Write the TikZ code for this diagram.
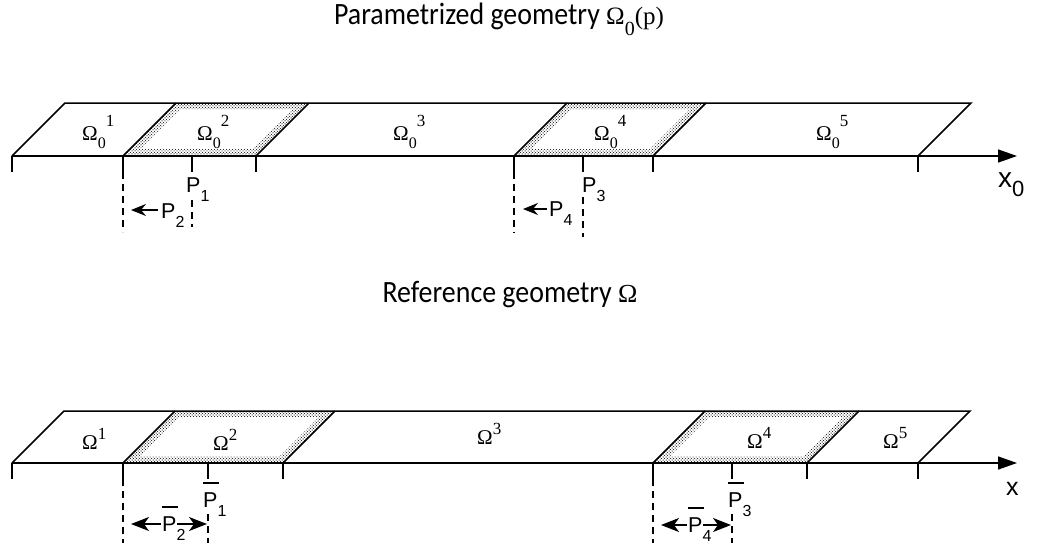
\documentclass[tikz,border=0pt]{standalone}
\usepackage{fontspec}
\setmainfont{Liberation Sans}
\newfontfamily\omfont{Liberation Serif}
\newfontfamily\capfont[FakeStretch=0.9]{Carlito}
\usetikzlibrary{arrows.meta, patterns}
\newcommand{\lowr}[1]{\raisebox{-0.42em}{\fontsize{16}{16}\selectfont#1}}
\newcommand{\Psub}[1]{P\lowr{#1}}
\newcommand{\Pbar}[1]{\makebox[0pt][l]{\raisebox{1.08em}{\rule{0.75em}{1.4pt}}}\Psub{#1}}
\newcommand{\Omz}[1]{Ω\raisebox{-0.4em}{\fontsize{16}{16}\selectfont 0}\raisebox{0.65em}{\fontsize{17}{17}\selectfont#1}}
\newcommand{\Omr}[1]{Ω\raisebox{0.45em}{\fontsize{17}{17}\selectfont#1}}
\tikzset{
  ln/.style={line width=1.5pt},
  dsh/.style={line width=1.4pt, dash pattern=on 7pt off 5pt},
  ar1/.style={line width=1.5pt, -{Stealth[length=15pt,width=12pt,inset=5pt]}},
  ar2/.style={line width=1.5pt, -{Stealth[length=18pt,width=14pt,inset=5pt]}},
  stip/.style={pattern=crosshatch dots, pattern color=black, even odd rule},
  stipb/.style={pattern=dots, pattern color=black!70, even odd rule},
  lab/.style={inner sep=0pt, anchor=base west},
  plab/.style={lab, font=\fontsize{21.5}{24}\selectfont},
  olab/.style={lab, font=\fontsize{21}{24}\omfont},
  title/.style={inner sep=0pt, anchor=base, font=\fontsize{31}{34}\capfont}
}
\begin{document}
\begin{tikzpicture}[x=1pt, y=-1pt]
  \useasboundingbox (0,0) rectangle (1039,544);
  % titles
  \node[title] (t0) at (499,24) {Parametrized geometry {\omfont\fontsize{25}{26}\selectfont Ω\raisebox{-0.45em}{\fontsize{20}{20}\selectfont 0}(p)}};
  \node[title] (t1) at (510,302) {Reference geometry {\omfont\fontsize{26}{28}\selectfont Ω}};

  % stippled cells
  \foreach \a/\b/\y/\h in {123/256/156/53, 514/653/156/53, 123/283/463/52, 653/807/463/52} {
    \fill[stip] (\a,\y) -- (\a+\h,\y-\h) -- (\b+\h,\y-\h) -- (\b,\y) -- cycle
      (\a+17,\y-7) -- (\a+\h+4,\y-\h+6) -- (\b+\h-16,\y-\h+6) -- (\b-3,\y-7) -- cycle;
    \fill[stipb] (\a,\y) -- (\a+\h,\y-\h) -- (\b+\h,\y-\h) -- (\b,\y) -- cycle
      (\a+13,\y-5) -- (\a+\h+2,\y-\h+4) -- (\b+\h-12,\y-\h+4) -- (\b-1,\y-5) -- cycle;
  }

  % parametrized strip
  \draw[ln] (12,156) -- (65,103) -- (971,103) -- (918,156);
  \draw[ln, -{Triangle[length=19pt,width=13pt]}] (12,156) -- (1017,156);
  \foreach \a in {123,256,514,653}
    \draw[ln] (\a,156) -- ++(53,-53);
  \foreach \a in {12,123,192,256,514,583,653,918}
    \draw[ln] (\a,156) -- ++(0,16);
  \draw[dsh] (123,172) -- (123,232);
  \draw[dsh] (514,172) -- (514,233);
  \draw[dsh] (192,200) -- (192,227);
  \draw[dsh] (583,197) -- (583,237);

  \node[olab] (o01) at (82,140) {\Omz{1}};
  \node[olab] (o02) at (197,140) {\Omz{2}};
  \node[olab] (o03) at (393,140) {\Omz{3}};
  \node[olab] (o04) at (594,140) {\Omz{4}};
  \node[olab] (o05) at (816,140) {\Omz{5}};

  \node[plab] (p1) at (186,192) {\Psub{1}};
  \node[plab] (p2) at (161,218) {\Psub{2}};
  \node[plab] (p3) at (582,192) {\Psub{3}};
  \node[plab] (p4) at (549,216) {\Psub{4}};
  \node[lab, font=\fontsize{28}{30}\selectfont] (x0) at (998,187) {x\raisebox{-0.35em}{\fontsize{22}{22}\selectfont 0}};
  \coordinate (a2) at (131,210);
  \coordinate (a4) at (523,209);
  \draw[ar1] ([xshift=-3pt]p2.west |- a2) -- (a2);
  \draw[ar1] ([xshift=-2pt]p4.west |- a4) -- (a4);

  % reference strip
  \draw[ln] (12,463) -- (64,411) -- (970,411) -- (918,463);
  \draw[ln, -{Triangle[length=19pt,width=13pt]}] (12,463) -- (1017,463);
  \foreach \a in {123,283,653,807}
    \draw[ln] (\a,463) -- ++(52,-52);
  \foreach \a in {12,123,208,283,653,732,807,918}
    \draw[ln] (\a,463) -- ++(0,16);
  \draw[dsh] (123,479) -- (123,543);
  \draw[dsh] (653,479) -- (653,543);
  \draw[dsh] (208,514) -- (208,543);
  \draw[dsh] (732,514) -- (732,543);

  \node[olab] (o1) at (82,449) {\Omr{1}};
  \node[olab] (o2) at (213,450) {\Omr{2}};
  \node[olab] (o3) at (477,444) {\Omr{3}};
  \node[olab] (o4) at (747,448) {\Omr{4}};
  \node[olab] (o5) at (883,448) {\Omr{5}};

  \node[plab] (q1) at (203,507) {\Pbar{1}};
  \node[plab] (q2) at (162,531) {\Pbar{2}};
  \node[plab] (q3) at (728,507) {\Pbar{3}};
  \node[plab] (q4) at (688,532) {\Pbar{4}};
  \node[lab, font=\fontsize{25}{27}\selectfont] (x1) at (1006,495) {x};
  \coordinate (l2) at (131,524);
  \coordinate (r2) at (207,524);
  \coordinate (l4) at (661,525);
  \coordinate (r4) at (731,525);
  \draw[ar2] ([xshift=-1pt]q2.west |- l2) -- (l2);
  \draw[ar2] ([xshift=15pt]q2.west |- r2) -- (r2);
  \draw[ar2] ([xshift=-1pt]q4.west |- l4) -- (l4);
  \draw[ar2] ([xshift=15pt]q4.west |- r4) -- (r4);
\end{tikzpicture}
\end{document}
